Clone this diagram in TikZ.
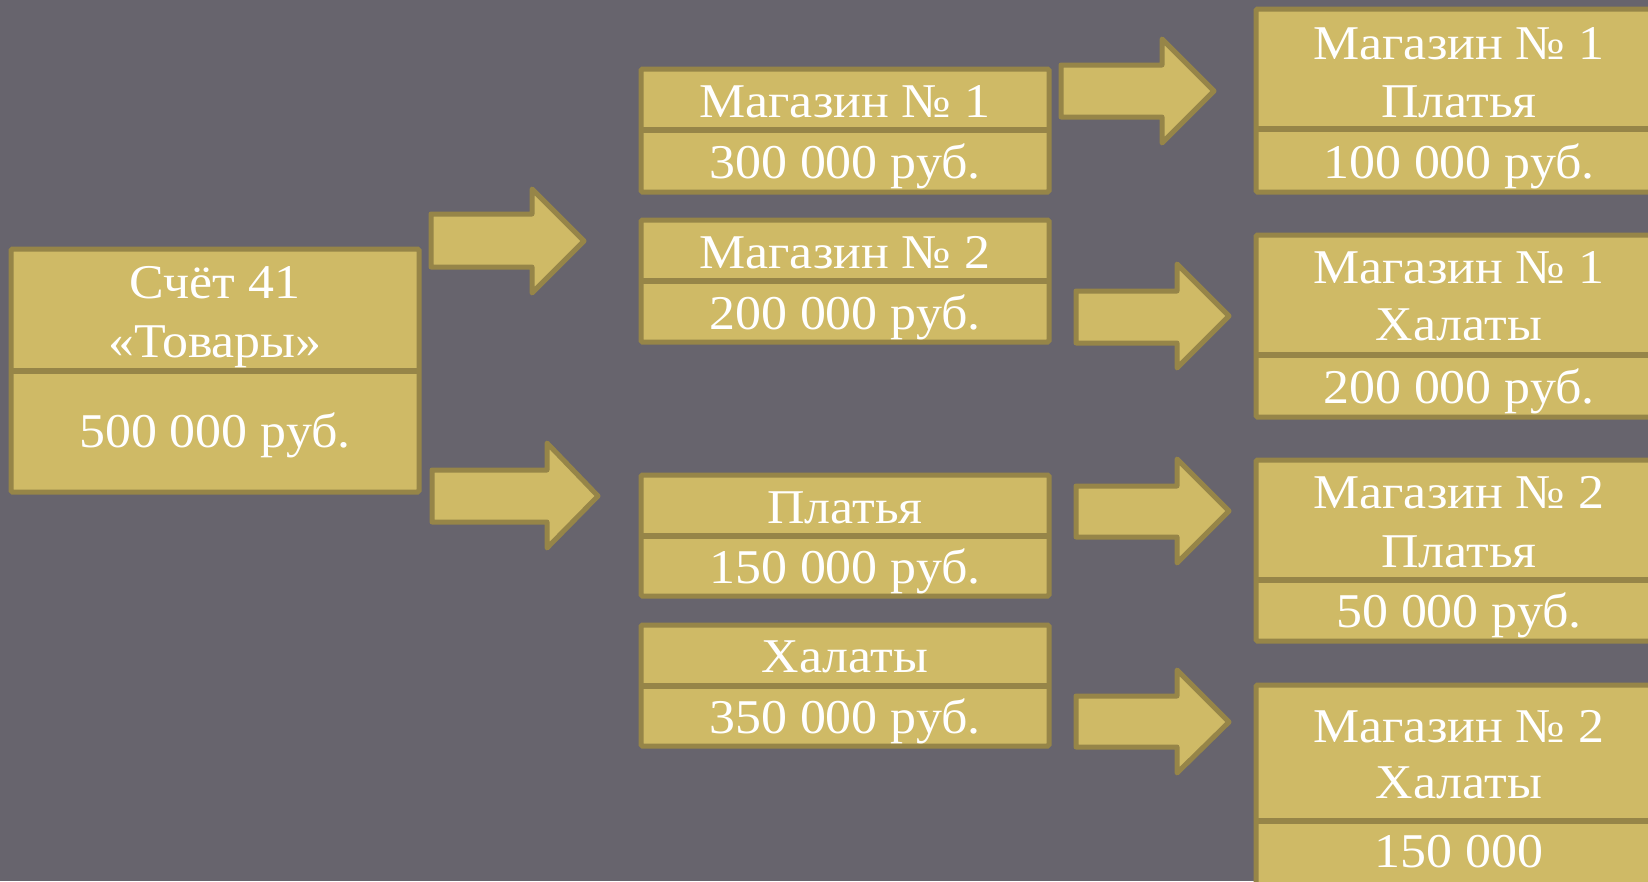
\documentclass[tikz,border=0pt]{standalone}
\usepackage{fontspec}
\setmainfont{Liberation Serif}[FakeStretch=1.07]
\definecolor{bg}{RGB}{103,100,109}
\definecolor{gold}{RGB}{207,186,102}
\definecolor{goldline}{RGB}{150,133,72}
\tikzset{
  box/.style={fill=gold, draw=goldline, line width=5pt, rounded corners=1.5pt, anchor=north west, inner sep=0pt, outer sep=0pt},
  splitline/.style={draw=goldline, line width=6pt},
  blockarrow/.style={fill=gold, draw=goldline, line width=5pt, line join=round},
  lbl/.style={text=white, font=\fontsize{48.5}{56}\selectfont, anchor=base, inner sep=0pt},
}
\begin{document}
\begin{tikzpicture}[x=1pt,y=-1pt]
\fill[bg] (0,0) rectangle (1648,881);
\useasboundingbox (0,0) rectangle (1648,881);
\clip (0,0) rectangle (1648,881);

% left box
\node[box, minimum width=408, minimum height=243] (acc) at (11,249) {};
\draw[splitline] (13,371) -- (417,371);
\node[lbl] (acct1) at (215,298) {Счёт 41};
\node[lbl] (acct2) at (215,357) {«Товары»};
\node[lbl] (accv) at (215,447) {500 000 руб.};

% middle boxes
\node[box, minimum width=408, minimum height=123] (m1) at (641,69) {};
\draw[splitline] (643,130) -- (1047,130);
\node[lbl] (m1t) at (845,117) {Магазин № 1};
\node[lbl] (m1v) at (845,178) {300 000 руб.};

\node[box, minimum width=408, minimum height=122] (m2) at (641,220) {};
\draw[splitline] (643,281) -- (1047,281);
\node[lbl] (m2t) at (845,268) {Магазин № 2};
\node[lbl] (m2v) at (845,329) {200 000 руб.};

\node[box, minimum width=408, minimum height=121] (pl) at (641,475) {};
\draw[splitline] (643,536) -- (1047,536);
\node[lbl] (plt) at (845,523) {Платья};
\node[lbl] (plv) at (845,583) {150 000 руб.};

\node[box, minimum width=408, minimum height=121] (hl) at (641,625) {};
\draw[splitline] (643,686) -- (1047,686);
\node[lbl] (hlt) at (845,672) {Халаты};
\node[lbl] (hlv) at (845,733) {350 000 руб.};

% right boxes
\node[box, minimum width=406, minimum height=183] (r1) at (1256,9) {};
\draw[splitline] (1258,129) -- (1660,129);
\node[lbl] (r1a) at (1459,59) {Магазин № 1};
\node[lbl] (r1b) at (1459,117) {Платья};
\node[lbl] (r1v) at (1459,178) {100 000 руб.};

\node[box, minimum width=406, minimum height=182] (r2) at (1256,235) {};
\draw[splitline] (1258,355) -- (1660,355);
\node[lbl] (r2a) at (1459,283) {Магазин № 1};
\node[lbl] (r2b) at (1459,340) {Халаты};
\node[lbl] (r2v) at (1459,403) {200 000 руб.};

\node[box, minimum width=406, minimum height=181] (r3) at (1256,460) {};
\draw[splitline] (1258,580) -- (1660,580);
\node[lbl] (r3a) at (1459,508) {Магазин № 2};
\node[lbl] (r3b) at (1459,567) {Платья};
\node[lbl] (r3v) at (1459,627) {50 000 руб.};

\node[box, minimum width=406, minimum height=240] (r4) at (1256,685) {};
\draw[splitline] (1258,821) -- (1660,821);
\node[lbl] (r4a) at (1459,742) {Магазин № 2};
\node[lbl] (r4b) at (1459,798) {Халаты};
\node[lbl] (r4v) at (1459,867) {150 000};

% block arrows
\draw[blockarrow] (431,214) -- (532,214) -- (532,189) -- (584,241) -- (532,293) -- (532,267) -- (431,267) -- cycle;
\draw[blockarrow] (432,470) -- (547,470) -- (547,443) -- (598,496) -- (547,548) -- (547,522) -- (432,522) -- cycle;
\draw[blockarrow] (1061,65) -- (1162,65) -- (1162,39) -- (1214,91) -- (1162,143) -- (1162,117) -- (1061,117) -- cycle;
\draw[blockarrow] (1076,291) -- (1177,291) -- (1177,264) -- (1229,316) -- (1177,368) -- (1177,343) -- (1076,343) -- cycle;
\draw[blockarrow] (1076,486) -- (1177,486) -- (1177,459) -- (1229,511) -- (1177,563) -- (1177,537) -- (1076,537) -- cycle;
\draw[blockarrow] (1076,696) -- (1177,696) -- (1177,670) -- (1229,722) -- (1177,773) -- (1177,747) -- (1076,747) -- cycle;
\end{tikzpicture}
\end{document}
